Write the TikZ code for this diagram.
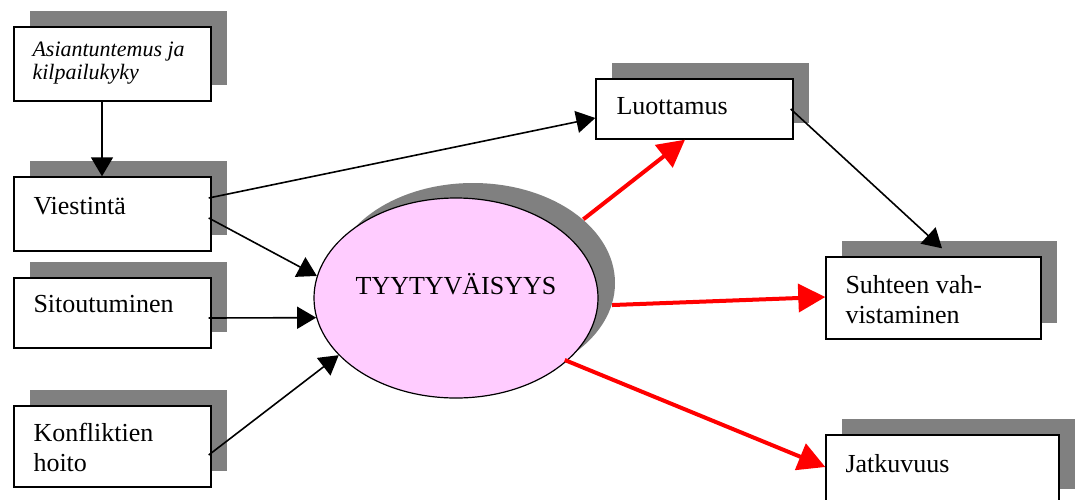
\documentclass[tikz,border=0pt]{standalone}
\usepackage{fontspec}
\setmainfont{Liberation Serif}
\usetikzlibrary{shapes.geometric,shadows,arrows.meta,calc}
\definecolor{shadowgray}{HTML}{808080}
\definecolor{bubble}{HTML}{FFCCFF}
\definecolor{hotred}{HTML}{FF0000}

% two left-aligned lines whose baseline is the first line's baseline
\newcommand\twoline[2]{\parbox[t]{300pt}{\raggedright #1\\#2}}

\begin{document}
\begin{tikzpicture}[x=1pt,y=-1pt,
  box/.style={rectangle, draw=black, line width=1.4pt, fill=white, inner sep=0pt,
    drop shadow={shadow xshift=16pt, shadow yshift=16pt, opacity=1, fill=shadowgray}},
  lbl/.style={anchor=base west, inner sep=0pt, font=\fontsize{26}{30}\selectfont},
  feed/.style={draw=black, line width=1.6pt, -{Triangle[length=19pt,width=22pt]}},
  outcome/.style={draw=hotred, line width=4pt, -{Triangle[length=27pt,width=28pt]}}]

\useasboundingbox (0,0) rectangle (1076,499);
\clip (0,0) rectangle (1076,499);

% left-hand factor boxes
\node[box, minimum width=197pt, minimum height=74pt] (asi) at (112.5,64) {};
\node[box, minimum width=197pt, minimum height=74pt] (viest) at (112.5,214) {};
\node[box, minimum width=197pt, minimum height=70pt] (sit) at (112.5,313) {};
\node[box, minimum width=197pt, minimum height=81pt] (konf) at (112.5,446.5) {};

% right-hand outcome boxes
\node[box, minimum width=197pt, minimum height=60pt] (luot) at (694.5,109) {};
\node[box, minimum width=215pt, minimum height=82pt] (suht) at (933.5,298) {};
\node[box, minimum width=233pt, minimum height=70pt] (jatk) at (942.5,470) {};

% central satisfaction ellipse
\node[ellipse, draw=black, line width=1.2pt, fill=bubble, minimum width=284pt,
  minimum height=200pt, inner sep=0pt,
  drop shadow={shadow xshift=17pt, shadow yshift=15pt, opacity=1, fill=shadowgray}]
  (sat) at (456,298) {};

% labels
\node[lbl, font=\fontsize{22}{23}\selectfont\itshape] (asi-t)
  at ($(asi.north west)+(19,30)$) {\twoline{Asiantuntemus ja}{kilpailukyky}};
\node[lbl] (viest-t) at ($(viest.north west)+(20,38)$) {Viestintä};
\node[lbl] (sit-t) at ($(sit.north west)+(20,35)$) {Sitoutuminen};
\node[lbl] (konf-t) at ($(konf.north west)+(20,36)$) {\twoline{Konfliktien}{hoito}};
\node[lbl] (luot-t) at ($(luot.north west)+(21,36)$) {Luottamus};
\node[lbl] (suht-t) at ($(suht.north west)+(20,37)$) {\twoline{Suhteen vah-}{vistaminen}};
\node[lbl] (jatk-t) at ($(jatk.north west)+(20,38)$) {Jatkuvuus};
\node[anchor=base, inner sep=0pt, font=\fontsize{26}{30}\selectfont] (sat-t)
  at ($(sat.center)+(0,-4)$) {TYYTYVÄISYYS};

% black influence arrows
\draw[feed] ([xshift=-10.5pt]asi.south) -- ([xshift=-10.5pt]viest.north);
\draw[feed] ([xshift=-3pt,yshift=16pt]viest.east) -- ([yshift=-9pt]luot.west);
\draw[feed] ([xshift=-3pt,yshift=-4pt]viest.east) -- (sat.171);
\draw[feed] ([xshift=-3pt,yshift=-5pt]sit.east) -- (sat.188);
\draw[feed] ([xshift=-3pt,yshift=-8.5pt]konf.east) -- (sat.206);
\draw[feed] ([xshift=-3pt]luot.east) -- ([xshift=8.5pt,yshift=8pt]suht.north);

% red outcome arrows, leaving from the ellipse's shadow
\draw[outcome] ([xshift=17pt,yshift=15pt]sat.30) -- ([xshift=-9.5pt]luot.south);
\draw[outcome] ([xshift=17pt,yshift=15pt]sat.351.5) -- ([yshift=1pt]suht.west);
\draw[outcome] ([xshift=17pt,yshift=15pt]sat.320.6) -- ([yshift=3pt]jatk.west);
\end{tikzpicture}
\end{document}
